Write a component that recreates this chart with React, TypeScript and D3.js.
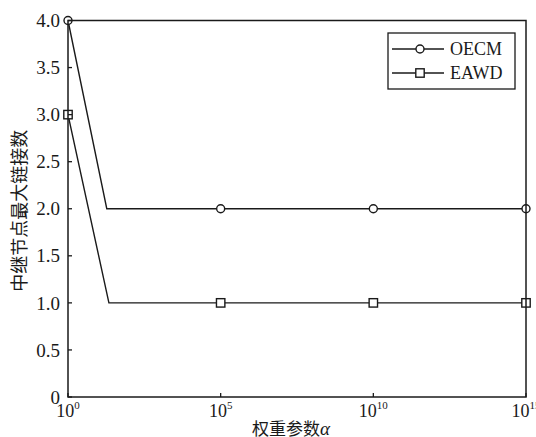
import React from "react";
import * as d3 from "d3";

const xValsOECM = [1, Math.pow(10, 1.27), 1e5, 1e10, 1e15];
const yValsOECM = [4, 2, 2, 2, 2];
const xValsEAWD = [1, Math.pow(10, 1.34), 1e5, 1e10, 1e15];
const yValsEAWD = [3, 1, 1, 1, 1];
const markerIdx = [0, 2, 3, 4];
const yTicks = [0, 0.5, 1, 1.5, 2, 2.5, 3, 3.5, 4];
const xTicks = [1e0, 1e5, 1e10, 1e15];
const xTickExp = ["0", "5", "10", "15"];
const seriesNames = ["OECM", "EAWD"];

const W = 536, H = 437;
const L = 68, R = 526, T = 20.5, B = 397;
const serif = "'Liberation Serif', 'Times New Roman', 'Noto Sans CJK SC', serif";
const cjk = "'Noto Sans CJK SC', 'Liberation Serif', serif";
const ink = "#1a1a1a";

export default function App() {
  const x = d3.scaleLog().domain([1, 1e15]).range([L, R]);
  const y = d3.scaleLinear().domain([0, 4]).range([B, T]);
  const line = d3.line<[number, number]>().x(d => x(d[0])).y(d => y(d[1]));
  const oecm: [number, number][] = xValsOECM.map((v, i) => [v, yValsOECM[i]]);
  const eawd: [number, number][] = xValsEAWD.map((v, i) => [v, yValsEAWD[i]]);
  const fmt = (v: number) => (v === 0 ? "0" : d3.format(".1f")(v));

  return (
    <svg width={W} height={H} style={{ position: "absolute", left: 0, top: 0, background: "#fff" }}>
      <rect x={0} y={0} width={W} height={H} fill="#fff" />
      <path d={line(oecm) || ""} fill="none" stroke={ink} strokeWidth={1.4} />
      <path d={line(eawd) || ""} fill="none" stroke={ink} strokeWidth={1.4} />
      {markerIdx.map(i => (
        <circle key={"c" + i} cx={x(oecm[i][0])} cy={y(oecm[i][1])} r={4} fill="#fff" stroke={ink} strokeWidth={1.4} />
      ))}
      {markerIdx.map(i => (
        <rect key={"s" + i} x={x(eawd[i][0]) - 4.2} y={y(eawd[i][1]) - 4.2} width={8.4} height={8.4} fill="#fff" stroke={ink} strokeWidth={1.4} />
      ))}
      <rect x={L} y={T} width={R - L} height={B - T} fill="none" stroke={ink} strokeWidth={1.5} />
      {yTicks.map(t => (
        <g key={"y" + t}>
          <line x1={L} x2={L + 4} y1={y(t)} y2={y(t)} stroke={ink} strokeWidth={1.3} />
          <text x={L - 8} y={y(t)} dy="0.35em" textAnchor="end" fontFamily={serif} fontSize={19} fill={ink}>{fmt(t)}</text>
        </g>
      ))}
      {xTicks.map((t, i) => (
        <g key={"x" + i}>
          <line x1={x(t)} x2={x(t)} y1={B} y2={B - 4} stroke={ink} strokeWidth={1.3} />
          <text x={x(t)} y={B + 20} textAnchor="middle" fontFamily={serif} fontSize={18} fill={ink}>
            10<tspan dy={-8} fontSize={11}>{xTickExp[i]}</tspan>
          </text>
        </g>
      ))}
      <text x={291} y={435} textAnchor="middle" fontFamily={cjk} fontSize={17} fill={ink}>
        权重参数<tspan fontFamily={serif} fontStyle="italic" fontSize={19}>α</tspan>
      </text>
      <text transform={`translate(20, ${(T + B) / 2 + 2}) rotate(-90)`} textAnchor="middle" dy="0.35em" fontFamily={cjk} fontSize={18} fill={ink}>
        中继节点最大链接数
      </text>
      <rect x={388} y={33} width={127} height={56} fill="#fff" stroke={ink} strokeWidth={1.3} />
      {seriesNames.map((n, i) => {
        const ly = 49 + i * 24;
        return (
          <g key={n}>
            <line x1={392} x2={444} y1={ly} y2={ly} stroke={ink} strokeWidth={1.4} />
            {i === 0 ? (
              <circle cx={420} cy={ly} r={4} fill="#fff" stroke={ink} strokeWidth={1.4} />
            ) : (
              <rect x={415.8} y={ly - 4.2} width={8.4} height={8.4} fill="#fff" stroke={ink} strokeWidth={1.4} />
            )}
            <text x={450} y={ly} dy="0.35em" fontFamily={serif} fontSize={18} fill={ink}>{n}</text>
          </g>
        );
      })}
    </svg>
  );
}
